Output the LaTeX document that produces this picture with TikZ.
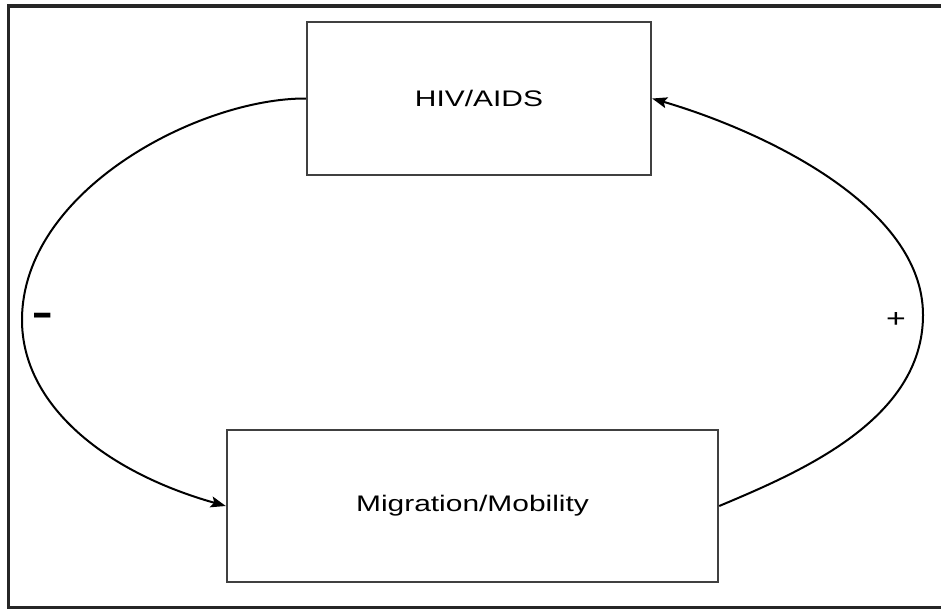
\documentclass[tikz,border=0pt]{standalone}
\usepackage{fontspec}
\setmainfont{Liberation Sans}
\usetikzlibrary{arrows.meta}
\begin{document}
\begin{tikzpicture}[x=1pt,y=-1pt,
  frame/.style={draw=black!85,line width=3.5pt},
  box/.style={draw=black!75,line width=2.4pt,inner sep=0pt,
    font=\fontsize{22.5}{26}\selectfont},
  loop/.style={draw=black,line width=2pt,
    -{Stealth[length=15pt,width=11pt,inset=3pt]}},
  sign/.style={inner sep=0pt}
]
\useasboundingbox (0,0) rectangle (941,610);
\fill[white] (0,0) rectangle (941,610);
\begin{scope}
  \clip (0,0) rectangle (941,610);
  \draw[frame] (8.5,6) rectangle (960,607.5);
\end{scope}

% the two boxes
\node[box,minimum width=344pt,minimum height=153pt] (hiv) at (479,98.5)
  {\scalebox{1.33}[1]{HIV/AIDS}};
\node[box,minimum width=491pt,minimum height=152pt] (mig) at (472.5,506)
  {\scalebox{1.33}[1]{Migration/Mobility}};

% turning points of the two loops
\coordinate (lm) at (22,320);
\coordinate (rm) at (923,315);

% feedback loops
\draw[loop] (hiv.west) .. controls (200,98) and (22,190) .. (lm)
  .. controls (22,405) and (105,472) .. (mig.west);
\draw[loop] (mig.east) .. controls (800,472) and (923,420) .. (rm)
  .. controls (923,205) and (760,130) .. (hiv.east);

% signs of the loops
\node[sign,font=\fontsize{30}{32}\selectfont\bfseries] (minus) at (43,321)
  {\scalebox{1.1}[1.6]{–}};
\node[sign,font=\fontsize{26}{28}\selectfont] (plus) at (896,320)
  {\scalebox{1.3}[1]{+}};
\end{tikzpicture}
\end{document}
